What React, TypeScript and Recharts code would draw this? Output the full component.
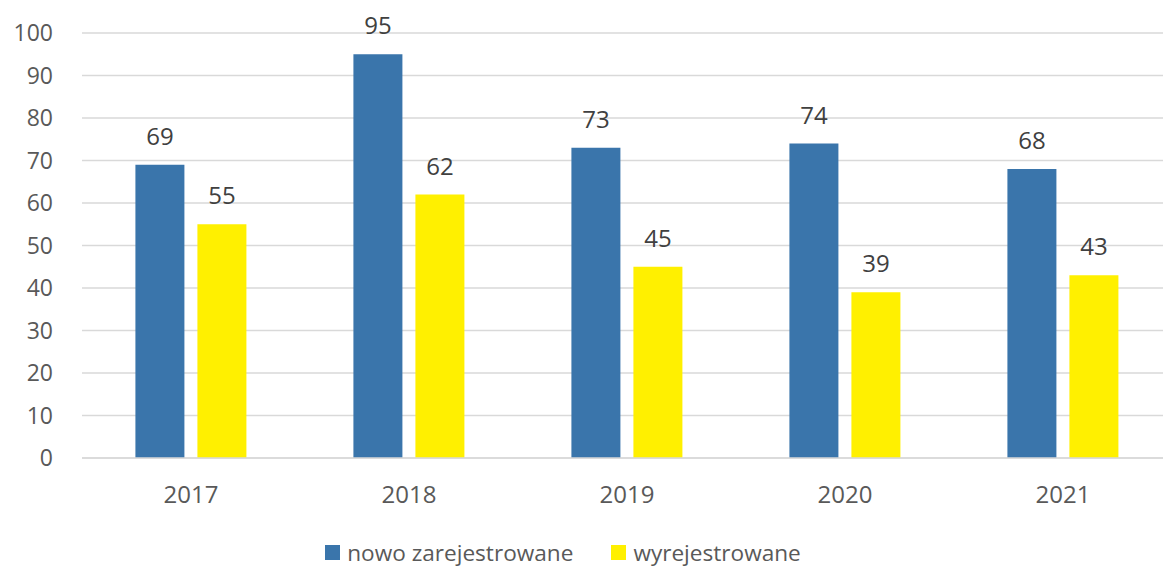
import React from 'react';
import { BarChart, Bar, XAxis, YAxis, CartesianGrid, Legend, LabelList } from 'recharts';

const years = ['2017', '2018', '2019', '2020', '2021'];
const nowoZarejestrowane = [69, 95, 73, 74, 68];
const wyrejestrowane = [55, 62, 45, 39, 43];
const yTicks = [0, 10, 20, 30, 40, 50, 60, 70, 80, 90, 100];

const data = years.map((y, i) => ({
  year: y,
  nowo: nowoZarejestrowane[i],
  wyrej: wyrejestrowane[i],
}));

const FONT = '"Open Sans", sans-serif';

const renderLegend = (props: any) => {
  const { payload } = props;
  return (
    <div style={{ display: 'flex', justifyContent: 'center', alignItems: 'center', height: 49, paddingTop: 20, paddingRight: 46, boxSizing: 'border-box' }}>
      {payload.map((p: any, i: number) => (
        <div key={i} style={{ display: 'flex', alignItems: 'center', marginLeft: i === 0 ? 0 : 38 }}>
          <span style={{ display: 'inline-block', width: 15, height: 15, background: p.color, marginRight: 7 }} />
          <span style={{ fontFamily: FONT, fontSize: 22.6, color: '#595959', lineHeight: '24px' }}>{p.value}</span>
        </div>
      ))}
    </div>
  );
};

export default function App() {
  return (
    <div style={{ position: 'absolute', left: 0, top: 0, width: 1163, height: 567, background: '#fff', overflow: 'hidden' }}>
      <BarChart
        width={1172}
        height={567}
        data={data}
        margin={{ top: 33, right: 0, bottom: 0, left: 0 }}
        barCategoryGap="24.5%"
        barGap={13}
      >
        <CartesianGrid vertical={false} stroke="#D9D9D9" strokeWidth={1.5} />
        <XAxis
          dataKey="year"
          height={60}
          tickLine={false}
          axisLine={{ stroke: '#D9D9D9', strokeWidth: 1.5 }}
          tick={{ fill: '#595959', fontSize: 24, fontFamily: FONT }}
          tickMargin={22}
        />
        <YAxis
          width={82}
          domain={[0, 100]}
          ticks={yTicks}
          interval={0}
          tickLine={false}
          axisLine={false}
          tick={{ fill: '#595959', fontSize: 23, fontFamily: FONT }}
          tickMargin={23}
        />
        <Legend verticalAlign="bottom" height={49} content={renderLegend} />
        <Bar dataKey="nowo" name="nowo zarejestrowane" fill="#3A75AB" isAnimationActive={false}>
          <LabelList dataKey="nowo" position="top" offset={20} fill="#404040" fontSize={24} fontFamily={FONT} />
        </Bar>
        <Bar dataKey="wyrej" name="wyrejestrowane" fill="#FFF000" isAnimationActive={false}>
          <LabelList dataKey="wyrej" position="top" offset={20} fill="#404040" fontSize={24} fontFamily={FONT} />
        </Bar>
      </BarChart>
    </div>
  );
}
